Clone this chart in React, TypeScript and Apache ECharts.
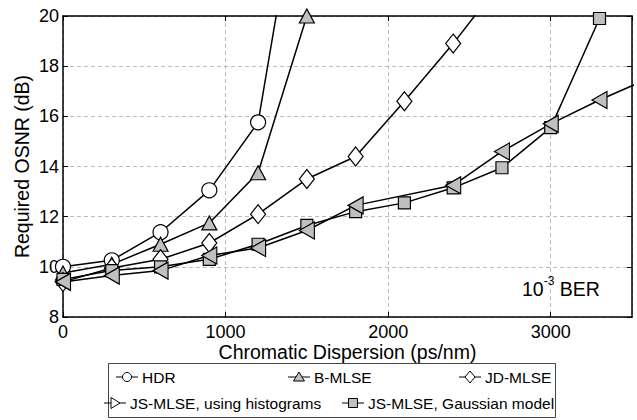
import React, { useEffect, useRef } from "react";
import * as echarts from "echarts";

const dispersion = [0, 300, 600, 900, 1200, 1500, 1800, 2100, 2400, 2700, 3000, 3300, 3600];
const hdr = [10.0, 10.26, 11.38, 13.05, 15.76, 27.2];
const bMlse = [9.75, 10.1, 10.9, 11.75, 13.75, 20.0];
const jdMlse = [9.4, 9.95, 10.3, 10.95, 12.1, 13.5, 14.4, 16.6, 18.9, 21.4];
const jsHist = [9.4, 9.65, 9.85, 10.45, 10.75, 11.45, 12.45, null, 13.25, 14.6, 15.7, 16.65, 17.5];
const jsGauss = [9.5, 9.85, 10.0, 10.3, 10.9, 11.65, 12.2, 12.55, 13.15, 13.95, 15.55, 19.9];
const seriesNames = ["HDR", "B-MLSE", "JD-MLSE", "JS-MLSE, using histograms", "JS-MLSE, Gaussian model"];

const FONT = "'Liberation Sans', Arial, sans-serif";
const GREY = "#c0c0c0";

const pairs = (arr: (number | null)[]) =>
  arr
    .map((v, i) => [dispersion[i], v])
    .filter((p) => p[1] !== null && p[1] !== undefined);

function legendMarker(kind: string, cx: number, cy: number) {
  const st = { stroke: "#000", lineWidth: 1 };
  switch (kind) {
    case "circle":
      return { type: "circle", shape: { cx, cy, r: 4.5 }, style: { ...st, fill: "#fff" } };
    case "triangle":
      return {
        type: "polygon",
        shape: { points: [[cx, cy - 5], [cx + 5.5, cy + 4], [cx - 5.5, cy + 4]] },
        style: { ...st, fill: GREY },
      };
    case "diamond":
      return {
        type: "polygon",
        shape: { points: [[cx, cy - 6], [cx + 5, cy], [cx, cy + 6], [cx - 5, cy]] },
        style: { ...st, fill: "#fff" },
      };
    case "rtriangle":
      return {
        type: "polygon",
        shape: { points: [[cx + 5, cy], [cx - 4, cy - 5.5], [cx - 4, cy + 5.5]] },
        style: { ...st, fill: "#fff" },
      };
    default:
      return { type: "rect", shape: { x: cx - 4.5, y: cy - 4.5, width: 9, height: 9 }, style: { ...st, fill: GREY } };
  }
}

const legendLayout = [
  { kind: "circle", x: 116, y: 377 },
  { kind: "triangle", x: 288, y: 377 },
  { kind: "diamond", x: 459, y: 377 },
  { kind: "rtriangle", x: 104, y: 403 },
  { kind: "square", x: 342, y: 403 },
];

export default function App() {
  const ref = useRef<HTMLDivElement>(null);
  useEffect(() => {
    const chart = echarts.init(ref.current!, null, { renderer: "svg" });
    const lineStyle = { color: "#000", width: 1.5 };
    const mk = (fill: string) => ({ color: fill, borderColor: "#000", borderWidth: 1.2 });
    const plain = (v: number) => String(v);

    const legendEls: any[] = [
      {
        type: "rect",
        shape: { x: 108.5, y: 363.5, width: 447, height: 54 },
        style: { fill: "#fff", stroke: "#444", lineWidth: 1 },
        z: 10,
      },
    ];
    legendLayout.forEach((l, i) => {
      legendEls.push({
        type: "line",
        shape: { x1: l.x, y1: l.y, x2: l.x + 22, y2: l.y },
        style: { stroke: "#000", lineWidth: 1 },
        z: 11,
      });
      legendEls.push({ ...legendMarker(l.kind, l.x + 11, l.y), z: 12 });
      legendEls.push({
        type: "text",
        x: l.x + 26,
        y: l.y,
        style: {
          text: seriesNames[i],
          fontSize: 15.5,
          fontFamily: FONT,
          fill: "#000",
          verticalAlign: "middle",
        },
        z: 12,
      });
    });

    const option: any = {
      animation: false,
      backgroundColor: "#fff",
      textStyle: { fontFamily: FONT },
      grid: { left: 63, right: 5, top: 16, bottom: 103, containLabel: false },
      xAxis: [
        {
          type: "value",
          min: 0,
          max: 3500,
          interval: 1000,
          position: "bottom",
          name: "Chromatic Dispersion (ps/nm)",
          nameLocation: "middle",
          nameGap: 25,
          nameMoveOverlap: false,
          nameTextStyle: { fontSize: 19.5, color: "#000", fontFamily: FONT },
          axisLine: { onZero: false, lineStyle: { color: "#000", width: 1.5 } },
          axisTick: { inside: true, length: 5, lineStyle: { color: "#000" } },
          axisLabel: { fontSize: 18, color: "#000", margin: 6, showMaxLabel: false, fontFamily: FONT, formatter: plain },
          splitLine: { show: true, lineStyle: { type: [4, 3], color: "#bbbbbb", width: 1 } },
        },
        {
          type: "value",
          min: 0,
          max: 3500,
          interval: 1000,
          position: "top",
          axisLine: { onZero: false, lineStyle: { color: "#000", width: 1.5 } },
          axisTick: { inside: true, length: 5, lineStyle: { color: "#000" } },
          axisLabel: { show: false },
          splitLine: { show: false },
        },
      ],
      yAxis: [
        {
          type: "value",
          min: 8,
          max: 20,
          interval: 2,
          position: "left",
          name: "Required OSNR (dB)",
          nameLocation: "middle",
          nameGap: 31,
          nameMoveOverlap: false,
          nameRotate: 90,
          nameTextStyle: { fontSize: 19.5, color: "#000", fontFamily: FONT },
          axisLine: { show: true, onZero: false, lineStyle: { color: "#000", width: 1.5 } },
          axisTick: { show: true, inside: true, length: 5, lineStyle: { color: "#000" } },
          axisLabel: { fontSize: 18, color: "#000", margin: 4, fontFamily: FONT, formatter: plain },
          splitLine: { show: true, lineStyle: { type: [4, 3], color: "#bbbbbb", width: 1 } },
        },
        {
          type: "value",
          min: 8,
          max: 20,
          interval: 2,
          position: "right",
          axisLine: { show: true, onZero: false, lineStyle: { color: "#000", width: 1.5 } },
          axisTick: { show: true, inside: true, length: 5, lineStyle: { color: "#000" } },
          axisLabel: { show: false },
          splitLine: { show: false },
        },
      ],
      series: [
        {
          name: seriesNames[0],
          type: "line",
          data: pairs(hdr),
          symbol: "circle",
          symbolSize: 15,
          itemStyle: mk("#fff"),
          lineStyle,
        },
        {
          name: seriesNames[1],
          type: "line",
          data: pairs(bMlse),
          symbol: "triangle",
          symbolSize: [15, 14],
          itemStyle: mk(GREY),
          lineStyle,
        },
        {
          name: seriesNames[2],
          type: "line",
          data: pairs(jdMlse),
          symbol: "diamond",
          symbolSize: [15, 19],
          itemStyle: mk("#fff"),
          lineStyle,
        },
        {
          name: seriesNames[4],
          type: "line",
          data: pairs(jsGauss),
          symbol: "rect",
          symbolSize: 12,
          itemStyle: mk(GREY),
          lineStyle,
        },
        {
          name: seriesNames[3],
          type: "line",
          data: pairs(jsHist),
          symbol: "triangle",
          symbolRotate: 90,
          symbolSize: [17, 15],
          itemStyle: mk(GREY),
          lineStyle,
        },
      ],
      graphic: [
        {
          type: "text",
          x: 522,
          y: 299,
          style: {
            text: "{a|10}{b|-3}{a| BER}",
            fill: "#000",
            verticalAlign: "bottom",
            rich: {
              a: { fontSize: 19.5, fontFamily: FONT, lineHeight: 24, verticalAlign: "bottom", fill: "#000" },
              b: { fontSize: 12, fontFamily: FONT, lineHeight: 24, verticalAlign: "top", fill: "#000" },
            },
          },
          z: 20,
        },
        ...legendEls,
      ],
    };
    chart.setOption(option);
    return () => chart.dispose();
  }, []);
  return (
    <div
      ref={ref}
      style={{ position: "fixed", left: 0, top: 0, width: 637, height: 420, background: "#fff" }}
    />
  );
}
